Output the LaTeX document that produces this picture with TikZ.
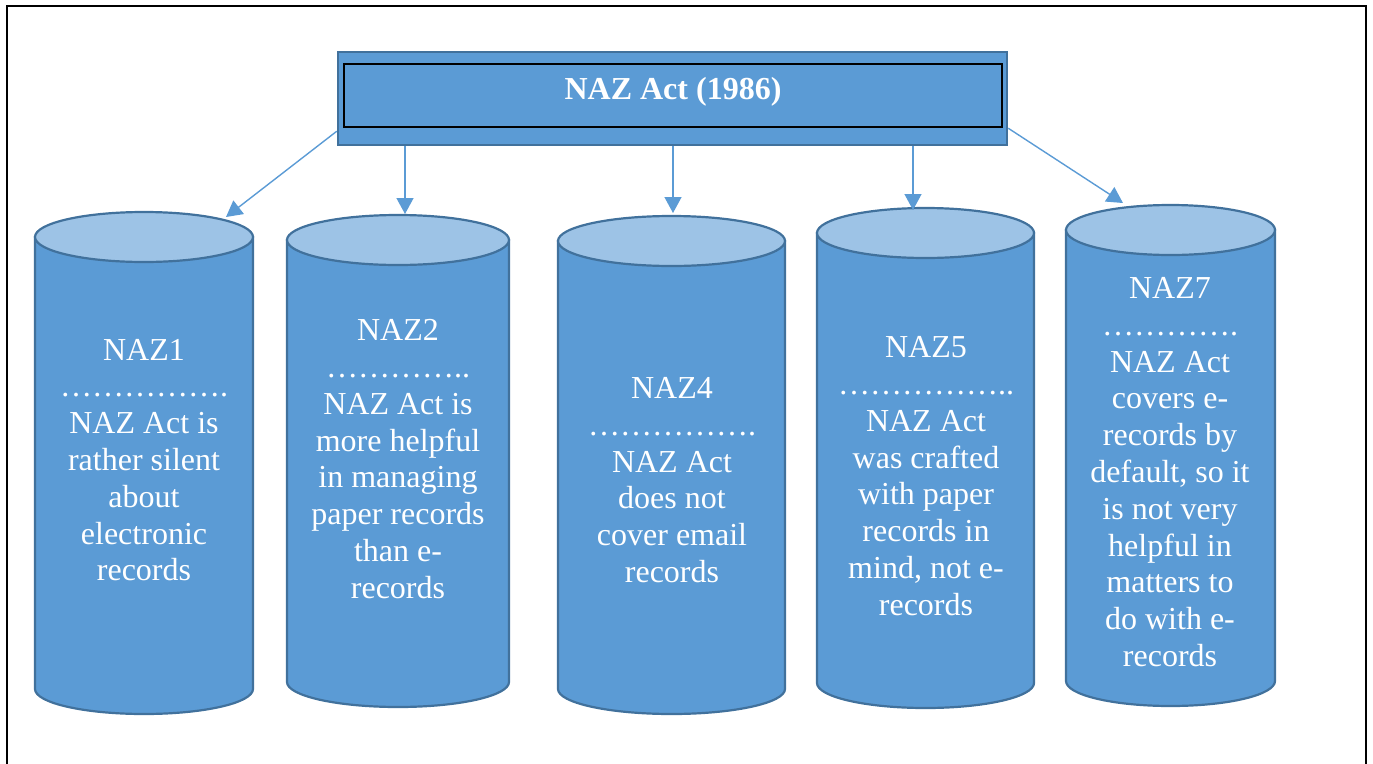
\documentclass[tikz,border=0pt]{standalone}
\usepackage{fontspec}
\setmainfont{Liberation Serif}
\usetikzlibrary{arrows.meta}
\definecolor{fillblue}{HTML}{5B9BD5}
\definecolor{topblue}{HTML}{9DC3E6}
\definecolor{edgeblue}{HTML}{41719C}
\newcommand{\drawcylinder}[4]{%
  \pgfmathsetmacro{\cylcx}{(#1+#2)/2}%
  \pgfmathsetmacro{\cylrx}{(#2-#1)/2}%
  \pgfmathsetmacro{\cylkx}{0.5523*\cylrx}%
  \filldraw[cylbody] (#1,#3) -- (#1,#4) .. controls (#1,#4+13.8) and (\cylcx-\cylkx,#4+25) .. (\cylcx,#4+25) .. controls (\cylcx+\cylkx,#4+25) and (#2,#4+13.8) .. (#2,#4) -- (#2,#3) -- cycle;
  \filldraw[cyltop] (\cylcx,#3) ellipse[x radius=\cylrx, y radius=25];
}
\tikzset{
  cylbody/.style={fill=fillblue, draw=edgeblue, line width=2.2pt},
  cyltop/.style={fill=topblue, draw=edgeblue, line width=2.2pt},
  cyltext/.style={text=white, align=center, font=\fontsize{32}{36.8}\selectfont, inner sep=0pt},
  link/.style={draw=fillblue, line width=1.4pt, -{Triangle[length=16pt,width=17pt]}},
}
\begin{document}
\begin{tikzpicture}[x=1pt,y=-1pt]
\useasboundingbox (0,0) rectangle (1373,763);
% outer frame
\draw[black, line width=2.5pt] (7,770) -- (7,6) -- (1366,6) -- (1366,770);
% title
\node[fill=fillblue, draw=edgeblue, line width=2.5pt, minimum width=669pt, minimum height=93pt, inner sep=0pt] (title) at (672.5,98.5) {};
\node[draw=black, line width=2pt, minimum width=658pt, minimum height=63pt, inner sep=0pt] (titleinner) at (673,95.5) {};
\node[text=white, font=\fontsize{32}{36.8}\selectfont\bfseries, inner sep=0pt] (titletext) at (673,92) {NAZ Act (1986)};
% cylinders
\drawcylinder{35}{253}{237}{689}
\drawcylinder{287}{509}{240}{682}
\drawcylinder{558}{785}{241}{689}
\drawcylinder{817}{1034}{233}{683}
\drawcylinder{1066}{1275}{230}{681}
% texts
\node[cyltext] (n1) at (144,460) {NAZ1\\……………. \\NAZ Act is\\rather silent\\about\\electronic\\records};
\node[cyltext] (n2) at (398,459) {NAZ2\\………….. \\NAZ Act is\\more helpful\\in managing\\paper records\\than e-\\records};
\node[cyltext] (n3) at (672,480) {NAZ4\\……………. \\NAZ Act\\does not\\cover email\\records};
\node[cyltext] (n4) at (926,476) {NAZ5\\…………….. \\NAZ Act\\was crafted\\with paper\\records in\\mind, not e-\\records};
\node[cyltext] (n5) at (1170,472) {NAZ7\\…………. \\NAZ Act\\covers e-\\records by\\default, so it\\is not very\\helpful in\\matters to\\do with e-\\records};
% arrow targets (tops of cylinders)
\coordinate (c1) at (226,217);
\coordinate (c2) at (405,214);
\coordinate (c3) at (673,213);
\coordinate (c4) at (913,210);
\coordinate (c5) at (1123,203);
% connectors
\draw[link] ([yshift=15pt]title.south west) -- (c1);
\draw[link] (title.south -| c2) -- (c2);
\draw[link] (title.south -| c3) -- (c3);
\draw[link] (title.south -| c4) -- (c4);
\draw[link] ([yshift=18pt]title.south east) -- (c5);
\end{tikzpicture}
\end{document}
